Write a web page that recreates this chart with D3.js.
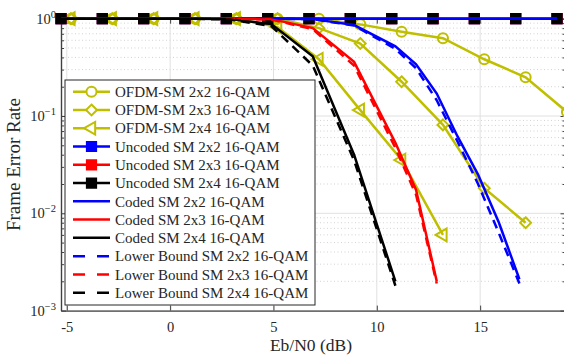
<!DOCTYPE html>
<html>
<head>
<meta charset="utf-8">
<script src="https://cdn.jsdelivr.net/npm/d3@7"></script>
<style>
  body { margin: 0; background: #fff; }
  text { font-family: "Liberation Serif", "Times New Roman", serif; fill: #262626; }
</style>
</head>
<body>
<div id="chart"></div>
<script>
// ---- data ----
var snrUncoded = [-5.28, -3.28, -1.28, 0.72, 2.72, 4.72, 6.72, 8.72, 10.72, 12.72, 14.72, 16.72, 18.72];
var ferUncoded22 = [1, 1, 1, 1, 1, 1, 1, 1, 1, 1, 1, 1, 1];
var ferUncoded23 = [1, 1, 1, 1, 1, 1, 1, 1, 1, 1, 1, 1, 1];
var ferUncoded24 = [1, 1, 1, 1, 1, 1, 1, 1, 1, 1, 1, 1, 1];

var snrOfdm = [-4.8, -2.8, -0.8, 1.2, 3.2, 5.2, 7.2, 9.2, 11.2, 13.2, 15.2, 17.2, 19.2];
var ferOfdm22 = [1, 1, 1, 1, 1, 1, 1, 0.874, 0.735, 0.63, 0.383, 0.25, 0.11];
var ferOfdm23 = [1, 1, 1, 1, 1, 1, 0.8, 0.556, 0.225, 0.081, 0.0181, 0.008];
var ferOfdm24 = [1, 1, 1, 1, 1, 0.82, 0.383, 0.115, 0.0353, 0.006];

var snrCoded = [-5.28, -3.1, -1.1, 0.9, 2.9, 4.9, 6.9, 8.9, 10.9, 11.9, 12.9, 13.9, 14.9, 15.9, 16.9];
var ferCoded22 = [1, 1, 1, 1, 1, 1, 0.99, 0.86, 0.52, 0.34, 0.17, 0.062, 0.025, 0.0081, 0.0021];
var ferCoded23 = [1, 1, 1, 1, 1, 0.99, 0.8, 0.36, 0.053, 0.0174, 0.002];
var ferCoded24 = [1, 1, 1, 1, 0.99, 0.88, 0.41, 0.04, 0.002];

var ferBound22 = [1, 1, 1, 1, 1, 1, 0.99, 0.85, 0.49, 0.31, 0.145, 0.055, 0.02, 0.0063, 0.0019];
var ferBound23 = [1, 1, 1, 1, 1, 0.98, 0.78, 0.33, 0.047, 0.0155, 0.0019];
var ferBound24 = [1, 1, 1, 1, 0.98, 0.84, 0.33, 0.035, 0.0018];

var xTicks = [-5, 0, 5, 10, 15];
var yTicks = [1e-3, 1e-2, 1e-1, 1];
var yTickExp = ["\u22123", "\u22122", "\u22121", "0"];

var olive = "#bfbf00";

var width = 564, height = 355;
var margin = {top: 18.7, right: -1.5, bottom: 44.4, left: 61};

var svg = d3.select("#chart").append("svg")
  .attr("width", width)
  .attr("height", height);

var x = d3.scaleLinear().domain([-5.28, 19.13]).range([margin.left, width - margin.right]);
var y = d3.scaleLog().domain([1e-3, 1]).range([height - margin.bottom, margin.top]);

function zip(xs, ys) { return ys.map(function(v, i) { return [xs[i], v]; }); }

// series in plotting order
var series = [
  {name: "OFDM-SM 2x2 16-QAM", pts: zip(snrOfdm, ferOfdm22), color: olive, marker: "circle"},
  {name: "OFDM-SM 2x3 16-QAM", pts: zip(snrOfdm, ferOfdm23), color: olive, marker: "diamond"},
  {name: "OFDM-SM 2x4 16-QAM", pts: zip(snrOfdm, ferOfdm24), color: olive, marker: "triangle"},
  {name: "Uncoded SM 2x2 16-QAM", pts: zip(snrUncoded, ferUncoded22), color: "#0000ff", marker: "square"},
  {name: "Uncoded SM 2x3 16-QAM", pts: zip(snrUncoded, ferUncoded23), color: "#ff0000", marker: "square"},
  {name: "Uncoded SM 2x4 16-QAM", pts: zip(snrUncoded, ferUncoded24), color: "#000000", marker: "square"},
  {name: "Coded SM 2x2 16-QAM", pts: zip(snrCoded, ferCoded22), color: "#0000ff"},
  {name: "Coded SM 2x3 16-QAM", pts: zip(snrCoded, ferCoded23), color: "#ff0000"},
  {name: "Coded SM 2x4 16-QAM", pts: zip(snrCoded, ferCoded24), color: "#000000"},
  {name: "Lower Bound SM 2x2 16-QAM", pts: zip(snrCoded, ferBound22), color: "#0000ff", dash: "9,6"},
  {name: "Lower Bound SM 2x3 16-QAM", pts: zip(snrCoded, ferBound23), color: "#ff0000", dash: "9,6"},
  {name: "Lower Bound SM 2x4 16-QAM", pts: zip(snrCoded, ferBound24), color: "#000000", dash: "9,6"}
];

// ---- grid ----
var grid = svg.append("g");
var minorY = y.ticks().filter(function(v) { return yTicks.indexOf(v) < 0; });
grid.selectAll(".minor").data(minorY).enter().append("line")
  .attr("x1", x.range()[0]).attr("x2", x.range()[1])
  .attr("y1", function(d) { return y(d); }).attr("y2", function(d) { return y(d); })
  .attr("stroke", "#c8c8c8").attr("stroke-width", 0.8).attr("stroke-dasharray", "1,2.5");
grid.selectAll(".majorY").data(yTicks).enter().append("line")
  .attr("x1", x.range()[0]).attr("x2", x.range()[1])
  .attr("y1", function(d) { return y(d); }).attr("y2", function(d) { return y(d); })
  .attr("stroke", "#e0e0e0").attr("stroke-width", 1);
grid.selectAll(".majorX").data(xTicks).enter().append("line")
  .attr("x1", function(d) { return x(d); }).attr("x2", function(d) { return x(d); })
  .attr("y1", y.range()[0]).attr("y2", y.range()[1])
  .attr("stroke", "#e0e0e0").attr("stroke-width", 1);

// ---- axes (ticks inside) ----
var axisColor = "#404040";
function styleAxis(g) {
  g.select(".domain").attr("stroke", axisColor).attr("stroke-width", 1.2);
  g.selectAll(".tick line").attr("stroke", axisColor);
}
svg.append("g").attr("transform", "translate(0," + y.range()[0] + ")")
  .call(d3.axisBottom(x).tickValues(xTicks).tickSize(-5).tickSizeOuter(0).tickPadding(11).tickFormat(String))
  .call(styleAxis)
  .selectAll("text").style("font-size", "14.5px").attr("fill", "#262626");
svg.append("g").attr("transform", "translate(0," + y.range()[1] + ")")
  .call(d3.axisTop(x).tickValues(xTicks).tickSize(-5).tickSizeOuter(0).tickFormat(""))
  .call(styleAxis);
[["left", margin.left, d3.axisLeft], ["right", x.range()[1], d3.axisRight]].forEach(function(a) {
  svg.append("g").attr("transform", "translate(" + a[1] + ",0)")
    .call(a[2](y).tickValues(yTicks).tickSize(-5).tickSizeOuter(0).tickFormat(""))
    .call(styleAxis);
  svg.append("g").attr("transform", "translate(" + a[1] + ",0)")
    .call(a[2](y).tickValues(minorY).tickSize(-3).tickSizeOuter(0).tickFormat(""))
    .call(styleAxis);
});

// y tick labels 10^k
yTicks.forEach(function(v, i) {
  var t = svg.append("text")
    .attr("x", margin.left - 5)
    .attr("y", y(v) + 5)
    .attr("text-anchor", "end")
    .style("font-size", "14.5px");
  t.append("tspan").text("10");
  t.append("tspan").attr("dy", -6).style("font-size", "10.5px").text(yTickExp[i]);
});

// ---- curves ----
var line = d3.line()
  .x(function(d) { return x(d[0]); })
  .y(function(d) { return y(d[1]); });

function markerPath(type) {
  if (type === "circle") return d3.symbol().type(d3.symbolCircle).size(80)();
  if (type === "diamond") return d3.symbol().type(d3.symbolDiamond2).size(75)();
  if (type === "triangle") return d3.symbol().type(d3.symbolTriangle).size(70)();
  if (type === "square") return d3.symbol().type(d3.symbolSquare).size(85)();
}
function markerTransform(type, px, py) {
  var t = "translate(" + px + "," + py + ")";
  if (type === "triangle") t += " rotate(-90)";
  return t;
}

function drawLine(g, s) {
  g.append("path")
    .attr("d", line(s.pts))
    .attr("fill", "none")
    .attr("stroke", s.color)
    .attr("stroke-width", 2.5)
    .attr("stroke-dasharray", s.dash || null);
}
function drawMarkers(g, s) {
  g.selectAll(null).data(s.pts).enter().append("path")
    .attr("d", markerPath(s.marker))
    .attr("transform", function(d) { return markerTransform(s.marker, x(d[0]), y(d[1])); })
    .attr("fill", s.marker === "square" ? s.color : "none")
    .attr("stroke", s.color)
    .attr("stroke-width", 2);
}

var plot = svg.append("g");
// OFDM curves with open markers
series.slice(0, 3).forEach(function(s) { drawLine(plot, s); drawMarkers(plot, s); });
// uncoded: squares first, then the flat lines over them
series.slice(3, 6).forEach(function(s) { drawMarkers(plot, s); });
series.slice(3, 6).reverse().forEach(function(s) { drawLine(plot, s); });
// coded and lower bounds
series.slice(6).forEach(function(s) { drawLine(plot, s); });

// ---- legend ----
var leg = svg.append("g").attr("transform", "translate(65,80)");
leg.append("rect").attr("width", 250).attr("height", 225)
  .attr("fill", "#fff").attr("stroke", "#262626").attr("stroke-width", 1);
series.forEach(function(s, i) {
  var ry = 11.7 + i * 18.27;
  var row = leg.append("g");
  row.append("line").attr("x1", 8).attr("x2", 45).attr("y1", ry).attr("y2", ry)
    .attr("stroke", s.color).attr("stroke-width", 2.5)
    .attr("stroke-dasharray", s.dash ? "12,12" : null);
  if (s.marker) {
    row.append("path").attr("d", markerPath(s.marker))
      .attr("transform", markerTransform(s.marker, 26.5, ry))
      .attr("fill", s.marker === "square" ? s.color : "#fff")
      .attr("stroke", s.color).attr("stroke-width", 2);
  }
  row.append("text").attr("x", 50).attr("y", ry).attr("dy", "0.35em")
    .style("font-size", "15px").text(s.name);
});

// ---- axis titles ----
svg.append("text")
  .attr("x", (x.range()[0] + 565) / 2 - 2)
  .attr("y", 351)
  .attr("text-anchor", "middle")
  .style("font-size", "17.5px")
  .text("Eb/N0 (dB)");
svg.append("text")
  .attr("transform", "translate(20," + ((y.range()[0] + y.range()[1]) / 2) + ") rotate(-90)")
  .attr("text-anchor", "middle")
  .style("font-size", "19px")
  .text("Frame Error Rate");
</script>
</body>
</html>
